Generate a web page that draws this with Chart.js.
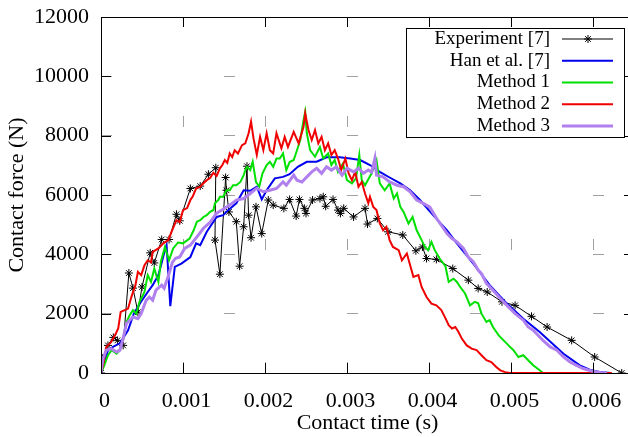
<!DOCTYPE html>
<html>
<head>
<meta charset="utf-8">
<script src="https://cdn.jsdelivr.net/npm/chart.js@4.4.1/dist/chart.umd.min.js"></script>
<style>
  html, body { margin: 0; padding: 0; overflow: hidden; background: #fff; }
</style>
</head>
<body>
<canvas id="chart" width="640" height="437"></canvas>
<script>
// time in ms, force in N
const expTime = [0,0.02,0.085,0.15,0.2,0.27,0.34,0.39,0.45,0.5,0.6,0.65,0.74,0.83,0.92,0.96,1.09,1.21,1.31,1.40,1.39,1.45,1.52,1.53,1.56,1.65,1.69,1.74,1.78,1.80,1.83,1.89,1.96,2.04,2.10,2.23,2.30,2.38,2.42,2.48,2.50,2.58,2.67,2.71,2.74,2.83,2.89,2.92,2.96,3.08,3.22,3.25,3.37,3.50,3.68,3.84,3.92,3.97,4.09,4.29,4.48,4.60,4.71,4.89,5.05,5.25,5.44,5.74,6.02,6.35];
const expForce = [0,500,930,1200,1100,930,3370,2860,2050,2900,4050,3710,4500,4500,5350,5130,6220,6300,6700,6920,4480,3330,6590,6160,5430,5100,3600,4930,6970,5320,4560,5600,4700,5830,5660,5550,5850,5290,5850,5550,5380,5830,5880,5940,5620,5850,5490,5380,5550,5260,5550,5020,5210,4760,4650,4120,4250,3860,3830,3520,3130,2850,2730,2400,2280,1910,1550,1100,540,0];

const hanTime = [0,0.01,0.085,0.146,0.23,0.33,0.40,0.49,0.57,0.63,0.70,0.78,0.80,0.845,0.90,0.98,1.09,1.16,1.21,1.29,1.41,1.49,1.55,1.65,1.74,1.82,1.90,1.96,2.02,2.12,2.22,2.30,2.40,2.51,2.63,2.75,2.91,3.04,3.16,3.28,3.40,3.52,3.65,3.77,3.89,4.05,4.22,4.34,4.54,4.74,4.95,5.15,5.35,5.64,5.84,5.96,6.09,6.21];
const hanForce = [0,90,770,880,1000,1440,2000,2410,2730,2960,3300,4140,4310,2250,3580,3690,3910,4370,4310,4760,5260,5320,5490,5720,6160,6140,6280,5850,6160,6560,6610,6700,6950,7120,7120,7270,7270,7230,7180,7010,6780,6590,6390,6160,5830,5320,4810,4370,3690,2960,2340,1830,1380,650,260,110,30,0];

const m1Time = [0,0.04,0.085,0.13,0.19,0.23,0.27,0.31,0.35,0.39,0.43,0.47,0.53,0.57,0.61,0.65,0.70,0.73,0.78,0.83,0.88,0.94,1.00,1.08,1.13,1.17,1.21,1.25,1.29,1.33,1.37,1.39,1.43,1.45,1.49,1.53,1.57,1.61,1.65,1.70,1.74,1.76,1.78,1.82,1.85,1.89,1.93,1.97,2.02,2.06,2.10,2.14,2.18,2.22,2.26,2.30,2.35,2.39,2.43,2.47,2.49,2.51,2.55,2.61,2.67,2.71,2.77,2.81,2.85,2.89,2.95,3.00,3.06,3.11,3.15,3.18,3.22,3.30,3.36,3.40,3.46,3.52,3.57,3.61,3.65,3.69,3.75,3.80,3.85,3.91,3.95,3.99,4.03,4.07,4.13,4.20,4.24,4.30,4.34,4.38,4.44,4.50,4.56,4.60,4.64,4.70,4.74,4.78,4.85,4.91,4.97,5.03,5.09,5.15,5.21,5.27,5.35,5.39,5.60];
const m1Force = [0,260,600,770,650,770,1160,1720,1950,2120,2000,2400,2730,3300,3070,3520,3070,3750,4250,3800,4200,4400,4370,4530,4810,5100,5150,5260,5320,5430,5490,5720,5830,5940,5940,6160,6160,6330,6330,6440,6670,6840,6950,6840,7120,6440,6280,6730,7010,7120,6950,7230,7230,7400,6840,7110,7180,7510,7850,8530,8800,8080,7510,7290,7620,7230,7400,7010,7180,6780,7060,6500,6390,6560,7350,6500,6330,6730,7180,6390,6160,6390,5880,6050,5600,5430,5040,5260,4810,4480,4250,4140,4420,4140,3860,3600,3070,3180,3070,2900,2680,2280,2400,2350,2000,1720,1780,1550,1270,1100,930,770,540,600,430,260,90,0,0];

const m2Time = [0,0.025,0.065,0.125,0.17,0.21,0.24,0.29,0.33,0.37,0.42,0.45,0.49,0.53,0.57,0.61,0.63,0.70,0.76,0.82,0.86,0.92,0.96,1.00,1.05,1.09,1.12,1.16,1.21,1.24,1.29,1.33,1.37,1.41,1.45,1.48,1.51,1.54,1.57,1.60,1.63,1.67,1.72,1.76,1.80,1.83,1.86,1.90,1.94,1.98,2.02,2.06,2.10,2.14,2.20,2.24,2.28,2.35,2.41,2.47,2.49,2.53,2.57,2.61,2.65,2.69,2.73,2.77,2.81,2.85,2.89,2.93,2.98,3.02,3.06,3.10,3.14,3.18,3.22,3.26,3.28,3.32,3.36,3.40,3.44,3.48,3.52,3.56,3.63,3.67,3.73,3.77,3.81,3.87,3.91,3.97,4.03,4.09,4.15,4.20,4.24,4.28,4.32,4.36,4.40,4.46,4.52,4.58,4.64,4.70,4.76,4.82,4.87,4.93,4.99,6.23];
const m2Force = [0,260,880,1050,1270,1500,2060,2120,2170,2560,2960,3410,3300,3630,3800,3730,4080,4200,4370,4480,4760,5150,5080,5490,5560,5830,5960,6220,6280,6370,6500,6570,6750,6640,6900,7010,7180,7080,7400,7280,7510,7400,7680,7740,8080,8470,7910,7350,7960,7510,8080,7510,7400,8080,7570,7960,7620,8130,7740,8300,8750,8190,7850,8190,7740,7960,7510,7740,7350,7510,7230,6840,7230,6730,6500,6780,6280,6440,6050,5720,5940,5600,5490,5040,4810,4930,4480,4250,4140,3800,4030,3630,3240,3300,2900,2560,2340,2280,2120,1850,1610,1500,1550,1380,1160,930,820,770,600,430,370,200,90,30,0,0];

const m3Time = [0,0.025,0.065,0.125,0.19,0.23,0.27,0.31,0.35,0.39,0.45,0.49,0.55,0.59,0.63,0.67,0.74,0.77,0.82,0.87,0.91,0.96,1.02,1.09,1.17,1.25,1.33,1.41,1.49,1.57,1.65,1.74,1.82,1.90,1.98,2.06,2.14,2.22,2.26,2.35,2.39,2.45,2.51,2.57,2.63,2.69,2.75,2.81,2.87,2.94,3.00,3.08,3.14,3.20,3.26,3.30,3.34,3.36,3.44,3.52,3.61,3.69,3.77,3.85,3.93,4.01,4.09,4.15,4.22,4.28,4.34,4.42,4.48,4.54,4.60,4.64,4.70,4.78,4.87,4.95,5.05,5.15,5.21,5.27,5.33,5.39,5.48,5.56,5.64,5.72,5.80,5.88,5.98,6.09,6.17];
const m3Force = [30,490,770,820,710,770,1160,1670,1780,1890,1830,2000,2450,2560,2450,2790,2960,2860,3260,3730,3870,3910,4200,4310,4590,4880,5080,5390,5520,5660,5830,5880,6050,6230,6110,6160,6220,6440,6330,6670,6500,6440,6610,6780,6900,6730,6950,6840,6950,6670,6900,6780,6900,6730,6840,6770,7230,6670,6610,6440,6330,6280,6110,5830,5720,5590,5220,4980,4700,4530,4420,4200,3910,3750,3470,3350,3020,2790,2510,2280,2000,1780,1550,1440,1270,1100,880,770,540,370,260,150,70,20,0];

const xTicks = [0, 0.001, 0.002, 0.003, 0.004, 0.005, 0.006];
const xTickLabels = ['0', '0.001', '0.002', '0.003', '0.004', '0.005', '0.006'];
const yTicks = [0, 2000, 4000, 6000, 8000, 10000, 12000];
const yTickLabels = ['0', '2000', '4000', '6000', '8000', '10000', '12000'];

const serif = '"Liberation Serif", "Times New Roman", serif';

function pts(t, f) {
  return t.map((v, i) => ({ x: v / 1000, y: f[i] }));
}

// gnuplot style frame: border plus inward ticks on all four sides
const frame = {
  id: 'frame',
  afterDatasetsDraw(chart) {
    const { ctx, chartArea: a, scales: { x, y } } = chart;
    ctx.save();
    ctx.strokeStyle = '#000';
    ctx.lineWidth = 1;
    ctx.beginPath();
    x.ticks.forEach(t => {
      const px = Math.round(x.getPixelForValue(t.value)) + 0.5;
      ctx.moveTo(px, a.bottom); ctx.lineTo(px, a.bottom - 10);
      ctx.moveTo(px, a.top); ctx.lineTo(px, a.top + 10);
    });
    y.ticks.forEach(t => {
      const py = Math.round(y.getPixelForValue(t.value)) + 0.5;
      ctx.moveTo(a.left, py); ctx.lineTo(a.left + 10, py);
      ctx.moveTo(a.right, py); ctx.lineTo(a.right - 10, py);
    });
    ctx.stroke();
    ctx.strokeRect(a.left + 0.5, a.top + 0.5, a.right - a.left, a.bottom - a.top);
    ctx.restore();
  }
};

// boxed key, text on the left and sample on the right
const key = {
  id: 'key',
  afterDraw(chart) {
    const ctx = chart.ctx;
    ctx.save();
    ctx.fillStyle = '#fff';
    ctx.fillRect(406, 28, 218, 109);
    ctx.strokeStyle = '#000';
    ctx.lineWidth = 1;
    ctx.strokeRect(406.5, 28.5, 218, 109);
    ctx.font = '19px ' + serif;
    ctx.textAlign = 'right';
    ctx.textBaseline = 'middle';
    chart.data.datasets.forEach((ds, i) => {
      const yy = 39 + i * 21.75;
      ctx.fillStyle = '#000';
      ctx.fillText(ds.label, 550, yy);
      ctx.strokeStyle = ds.borderColor;
      ctx.lineWidth = ds.borderWidth;
      ctx.beginPath();
      ctx.moveTo(562, yy);
      ctx.lineTo(613, yy);
      ctx.stroke();
      if (ds.pointRadius) {
        ctx.lineWidth = 1;
        Chart.helpers.drawPoint(ctx, { pointStyle: 'star', radius: ds.pointRadius, borderWidth: 1, rotation: 0 }, 588, yy);
      }
    });
    ctx.restore();
  }
};

new Chart(document.getElementById('chart'), {
  type: 'line',
  data: {
    datasets: [
      { label: 'Experiment [7]', data: pts(expTime, expForce), borderColor: '#000', borderWidth: 1,
        pointStyle: 'star', pointRadius: 4, pointBorderColor: '#000', pointBorderWidth: 1, order: 5 },
      { label: 'Han et al. [7]', data: pts(hanTime, hanForce), borderColor: '#0000ee', borderWidth: 2, pointRadius: 0, order: 4 },
      { label: 'Method 1', data: pts(m1Time, m1Force), borderColor: '#00e000', borderWidth: 2, pointRadius: 0, order: 3 },
      { label: 'Method 2', data: pts(m2Time, m2Force), borderColor: '#f00000', borderWidth: 2, pointRadius: 0, order: 2 },
      { label: 'Method 3', data: pts(m3Time, m3Force), borderColor: '#b080ee', borderWidth: 3, pointRadius: 0, order: 1 }
    ]
  },
  options: {
    responsive: false,
    animation: false,
    layout: { padding: { top: 17, right: 6, left: 0, bottom: 0 } },
    elements: { line: { tension: 0 } },
    plugins: { legend: { display: false }, tooltip: { enabled: false } },
    scales: {
      x: {
        type: 'linear', min: 0, max: 0.0065,
        afterBuildTicks: s => { s.ticks = xTicks.map(v => ({ value: v })); },
        afterFit: s => { s.height = 64; s.paddingLeft = 0; s.paddingRight = 0; },
        ticks: { callback: (v, i) => xTickLabels[i], font: { family: serif, size: 22 }, color: '#000',
          padding: 15, labelOffset: 3.5, maxRotation: 0, autoSkip: false },
        grid: { color: '#a0a0a0', lineWidth: 1, drawTicks: false },
        border: { display: false, dash: [11, 112], dashOffset: 24 },
        title: { display: true, text: 'Contact time (s)', font: { family: serif, size: 22 }, color: '#000',
          padding: { top: 0, bottom: 1 } }
      },
      y: {
        type: 'linear', min: 0, max: 12000,
        afterBuildTicks: s => { s.ticks = yTicks.map(v => ({ value: v })); },
        afterFit: s => { s.width = 101; s.paddingTop = 0; s.paddingBottom = 0; },
        ticks: { callback: (v, i) => yTickLabels[i], font: { family: serif, size: 22 }, color: '#000', padding: 12 },
        grid: { color: '#a0a0a0', lineWidth: 1, drawTicks: false },
        border: { display: false, dash: [11, 112], dashOffset: 0 },
        title: { display: true, text: 'Contact force (N)', font: { family: serif, size: 22 }, color: '#000',
          padding: { top: 4, bottom: 0 } }
      }
    }
  },
  plugins: [frame, key]
});
</script>
</body>
</html>
